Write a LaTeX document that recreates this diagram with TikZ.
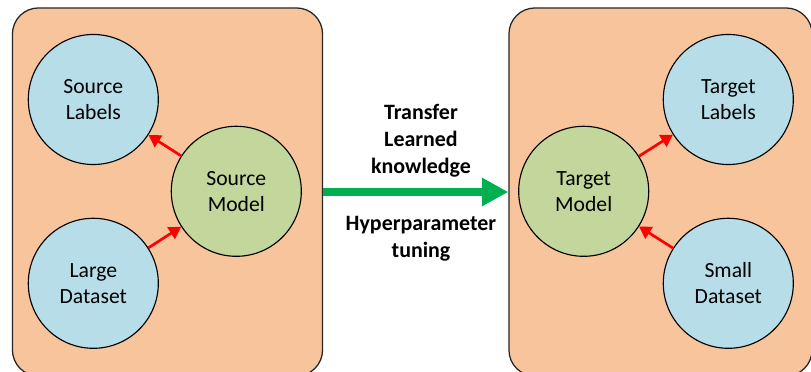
\documentclass[tikz,border=0pt]{standalone}
\usepackage{fontspec}
\setmainfont{Carlito}
\usetikzlibrary{arrows.meta}
\usetikzlibrary{positioning}

\definecolor{peach}{HTML}{F8C49C}
\definecolor{paleblue}{HTML}{B7DDE8}
\definecolor{palegreen}{HTML}{C3D69B}
\definecolor{kgreen}{HTML}{00B050}

\tikzset{
  panel/.style={draw=black!85, fill=peach, rounded corners=0.65cm, line width=0.9pt,
    minimum height=9.2cm, inner sep=0pt},
  leaf/.style={circle, draw, fill=paleblue, line width=0.8pt, minimum size=3.25cm,
    inner sep=0pt, align=center, font=\fontsize{15.4}{18.5}\selectfont},
  model/.style={leaf, fill=palegreen},
  feed/.style={-{Triangle[length=0.3cm,width=0.34cm]}, red, line width=1.9pt},
  caption/.style={align=center, font=\fontsize{15.6}{19.3}\selectfont\bfseries},
}

\begin{document}
\begin{tikzpicture}[x=0.025cm,y=-0.025cm]
\useasboundingbox (0,0) rectangle (811,372);
\clip (0,0) rectangle (811,372);

% the two domains
\node [panel, minimum width=7.75cm] (srcbox) at (167.5,192) {};
\node [panel, minimum width=7.575cm] (tgtbox) at (660.5,192) {};

% source side
\node [leaf] (srclabels) at (93.3,99.5) {Source\\Labels};
\node [model] (srcmodel) at (236.3,191.3) {Source\\Model};
\node [leaf] (largedata) at (93.3,283.3) {Large\\Dataset};

% target side
\node [model] (tgtmodel) at (583.7,191.3) {Target\\Model};
\node [leaf] (tgtlabels) at (728.3,99.5) {Target\\Labels};
\node [leaf] (smalldata) at (728.3,283.3) {Small\\Dataset};

\draw [feed] (srcmodel) -- (srclabels);
\draw [feed] (largedata) -- (srcmodel);
\draw [feed] (tgtmodel) -- (tgtlabels);
\draw [feed] (smalldata) -- (tgtmodel);

% transfer between the domains
\draw [-{Triangle[length=0.66cm,width=0.67cm]}, kgreen, line width=6.2pt]
  (srcbox.east) -- (tgtbox.west);
\node [caption] (xfer) at (421,141) {Transfer\\Learned\\knowledge};
\node [caption] (hyper) at (421,239) {Hyperparameter\\tuning};
\end{tikzpicture}
\end{document}
